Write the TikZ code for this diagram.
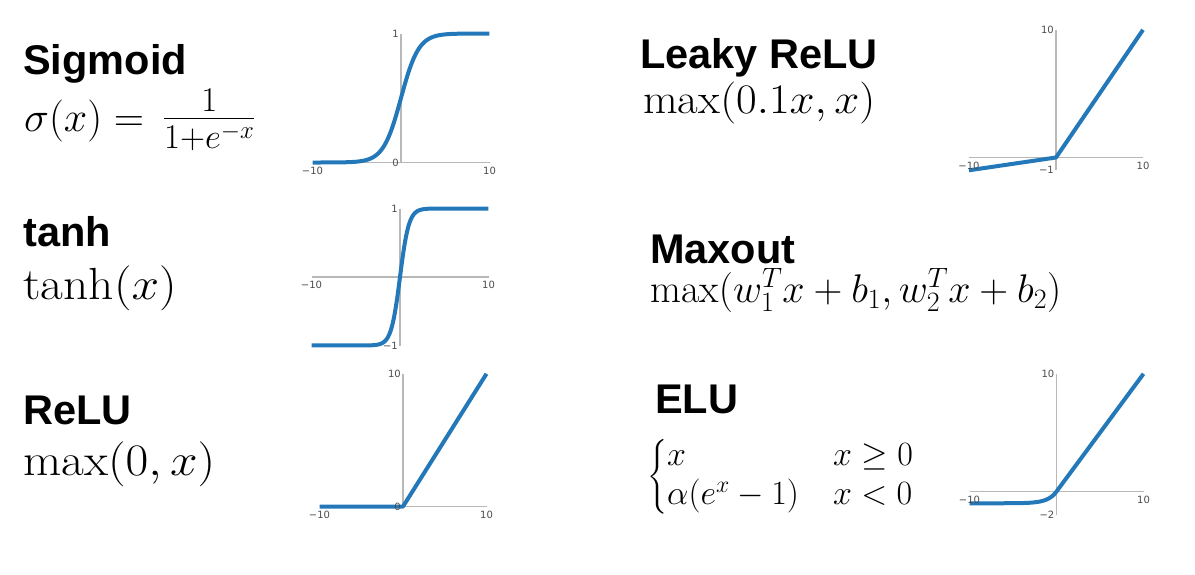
\documentclass[tikz,border=0pt]{standalone}
\usepackage{fix-cm}
\usepackage{amsmath}
\usepackage{fontspec}
\setsansfont{Liberation Sans}
\newfontfamily\tickfont{DejaVu Sans}
\definecolor{curveblue}{RGB}{35,120,185}
\newcommand\wide[1]{\scalebox{1.1}[1]{#1}}

\begin{document}
\begin{tikzpicture}[x=1pt,y=-1pt,
    title/.style={anchor=base west,inner sep=0,font=\fontsize{41.5}{48}\sffamily\bfseries},
    formula/.style={anchor=base west,inner sep=0,font=\fontsize{45}{52}\selectfont},
    smallformula/.style={formula,font=\fontsize{40}{48}\selectfont},
    axis/.style={draw=black!28,line width=1.2pt},
    curve/.style={draw=curveblue,line width=4pt,line join=round},
    tick/.style={inner sep=0,text=black!70,font=\fontsize{10}{11}\tickfont}]
\fill [white] (0,0) rectangle (1195,574);

% left column
\node [title] (sigtitle) at (23,74) {Sigmoid};
\node [formula,font=\fontsize{42}{50}\selectfont] (sigformula) at (24,131)
    {$\sigma(x)=\,\mbox{\scalebox{1.18}{$\frac{1}{1+e^{-x}}$}}$};
\node [title] (tanhtitle) at (23,246) {tanh};
\node [formula] (tanhformula) at (23,299) {\wide{$\tanh(x)$}};
\node [title] (relutitle) at (23,424) {ReLU};
\node [formula] (reluformula) at (23,475) {\wide{$\max(0,x)$}};

% right column
\node [title] (leakytitle) at (640,68) {Leaky ReLU};
\node [formula,font=\fontsize{42}{50}\selectfont] (leakyformula) at (643,113)
    {\scalebox{1.07}[1]{$\max(0.1x,x)$}};
\node [title] (maxouttitle) at (650,263) {Maxout};
\node [smallformula] (maxoutformula) at (650,302)
    {$\max(w_1^Tx+b_1,w_2^Tx+b_2)$};
\node [title] (elutitle) at (655,413) {ELU};
\node [formula,anchor=west,font=\fontsize{34}{33}\selectfont] (eluformula) at (647,477)
    {$\begin{cases} x & x\ge 0\\ \alpha(e^x-1) & x<0 \end{cases}$};

% sigmoid plot
\begin{scope}[shift={(401,162.5)},x=8.85pt,y=129pt]
\draw [axis] (-10,0) -- (10,0);
\draw [axis] (0,0) -- (0,1);
\draw [curve] plot [domain=-10:10,samples=120]
    (\x,{(\x<0) ? exp(-abs(\x))/(1+exp(-abs(\x))) : 1/(1+exp(-abs(\x)))});
\node [tick,left=2pt] (sigzero) at (0,0) {0};
\node [tick,left=2pt] (sigone) at (0,1) {1};
\node [tick,below=4pt] (sigleft) at (-10,0) {−10};
\node [tick,below=4pt] (sigright) at (10,0) {10};
\end{scope}

% tanh plot
\begin{scope}[shift={(400,277)},x=8.85pt,y=68.5pt]
\draw [axis] (-10,0) -- (10,0);
\draw [axis] (0,-1) -- (0,1);
\draw [curve] plot [domain=-10:10,samples=160]
    (\x,{sign(\x)*(1-exp(-2*abs(\x)))/(1+exp(-2*abs(\x)))});
\node [tick,left=2pt] (tanhone) at (0,1) {1};
\node [tick,left=2pt] (tanhminus) at (0,-1) {−1};
\node [tick,below=4pt] (tanhleft) at (-10,0) {−10};
\node [tick,below=4pt] (tanhright) at (10,0) {10};
\end{scope}

% relu plot
\begin{scope}[shift={(403,506.5)},x=8.35pt,y=13.27pt]
\draw [axis] (-10,0) -- (10,0);
\draw [axis] (0,0) -- (0,10);
\draw [curve] (-10,0) -- (0,0) -- (10,10);
\node [tick,left=2pt] (reluzero) at (0,0) {0};
\node [tick,left=2pt] (relutop) at (0,10) {10};
\node [tick,below=4pt] (reluleft) at (-10,0) {−10};
\node [tick,below=4pt] (reluright) at (10,0) {10};
\end{scope}

% leaky relu plot
\begin{scope}[shift={(1056,157.5)},x=8.7pt,y=12.77pt]
\draw [axis] (-10,0) -- (10,0);
\draw [axis] (0,-1) -- (0,10);
\draw [curve] (-10,-1) -- (0,0) -- (10,10);
\node [tick,left=2pt] (leakytop) at (0,10) {10};
\node [tick,left=2pt] (leakyminus) at (0,-1) {−1};
\node [tick,below=4pt] (leakyleft) at (-10,0) {−10};
\node [tick,below=4pt] (leakyright) at (10,0) {10};
\end{scope}

% elu plot
\begin{scope}[shift={(1056.5,491.5)},x=8.7pt,y=11.77pt]
\draw [axis] (-10,0) -- (10,0);
\draw [axis] (0,-2) -- (0,10);
\draw [curve] plot [domain=-10:0,samples=80] (\x,{exp(\x)-1}) -- (10,10);
\node [tick,left=2pt] (elutop) at (0,10) {10};
\node [tick,left=2pt] (eluminus) at (0,-2) {−2};
\node [tick,below=4pt] (eluleft) at (-10,0) {−10};
\node [tick,below=4pt] (eluright) at (10,0) {10};
\end{scope}
\end{tikzpicture}
\end{document}
